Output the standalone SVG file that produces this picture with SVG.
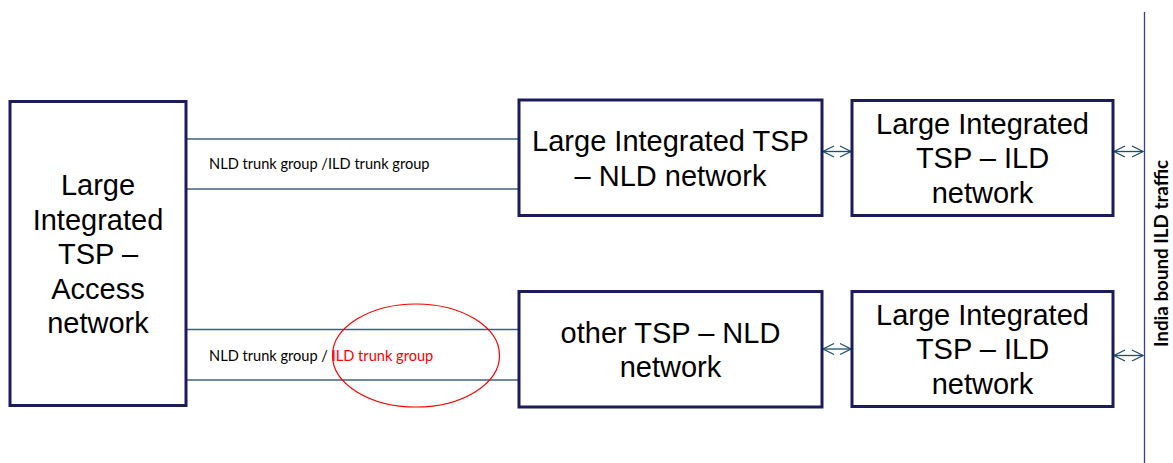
<svg xmlns="http://www.w3.org/2000/svg" width="1173" height="463" viewBox="0 0 1173 463">
<defs>
<style>
.box{fill:#ffffff;stroke:#1c1c5c;stroke-width:3}
.big{font-family:"Liberation Sans",Arial,sans-serif;font-size:29px;fill:#000;text-anchor:middle}
.small{font-family:Lato,"Open Sans",sans-serif;font-size:14.6px;fill:#000}
.trunk{stroke:#41617e;stroke-width:1.5;fill:none}
.arr{stroke:#1f4e6f;stroke-width:1.3;fill:none;marker-start:url(#ah);marker-end:url(#ah)}
</style>
<marker id="ah" viewBox="0 0 14 14" refX="13" refY="7" markerWidth="14" markerHeight="14" markerUnits="userSpaceOnUse" orient="auto-start-reverse">
<path d="M2,1.5 L13,7 L2,12.5" fill="none" stroke="#1f4e6f" stroke-width="1.3"/>
</marker>
</defs>
<rect width="1173" height="463" fill="#ffffff"/>

<g id="connectors">
<line class="trunk" x1="186" y1="139" x2="519" y2="139"/>
<line class="trunk" x1="186" y1="189" x2="519" y2="189"/>
<line class="trunk" x1="186" y1="329.5" x2="519" y2="329.5"/>
<line class="trunk" x1="186" y1="380" x2="519" y2="380"/>
<line class="arr" x1="823" y1="151.5" x2="851" y2="151.5"/>
<line class="arr" x1="823" y1="349" x2="851" y2="349"/>
<line class="arr" x1="1114" y1="151.5" x2="1143" y2="151.5"/>
<line class="arr" x1="1114" y1="355.5" x2="1143" y2="355.5"/>
<line x1="1144.5" y1="12" x2="1144.5" y2="463" stroke="#3c3c8a" stroke-width="1.3"/>
</g>

<g id="trunk-labels">
<text class="small" x="209" y="168.5">NLD trunk group /ILD trunk group</text>
<text class="small" x="209" y="361">NLD trunk group / <tspan fill="#ff0000">ILD trunk group</tspan></text>
<ellipse cx="416" cy="355.5" rx="83.5" ry="51.5" fill="none" stroke="#ff0000" stroke-width="1.2"/>
</g>

<g id="access">
<rect class="box" x="10" y="101.5" width="176" height="304"/>
<text class="big" x="98" y="195">Large</text>
<text class="big" x="98" y="229.5">Integrated</text>
<text class="big" x="98" y="264">TSP –</text>
<text class="big" x="98" y="298.5">Access</text>
<text class="big" x="98" y="333">network</text>
</g>

<g id="nld-large">
<rect class="box" x="519" y="100" width="303" height="115.5"/>
<text class="big" x="670.5" y="151">Large Integrated TSP</text>
<text class="big" x="670.5" y="185.5">– NLD network</text>
</g>

<g id="nld-other">
<rect class="box" x="519" y="291.5" width="303" height="115.5"/>
<text class="big" x="670.5" y="343">other TSP – NLD</text>
<text class="big" x="670.5" y="377">network</text>
</g>

<g id="ild-top">
<rect class="box" x="852" y="100.5" width="261" height="115"/>
<text class="big" x="982.5" y="133.5">Large Integrated</text>
<text class="big" x="982.5" y="168">TSP – ILD</text>
<text class="big" x="982.5" y="202.5">network</text>
</g>

<g id="ild-bottom">
<rect class="box" x="852" y="291.5" width="261" height="115"/>
<text class="big" x="982.5" y="324.5">Large Integrated</text>
<text class="big" x="982.5" y="359">TSP – ILD</text>
<text class="big" x="982.5" y="393.5">network</text>
</g>

<g id="label-india">
<text transform="translate(1167.5,253.5) rotate(-90)" text-anchor="middle" font-family="Lato,'Open Sans',sans-serif" font-weight="bold" font-size="18.8px" fill="#000">India bound ILD traffic</text>
</g>
</svg>
